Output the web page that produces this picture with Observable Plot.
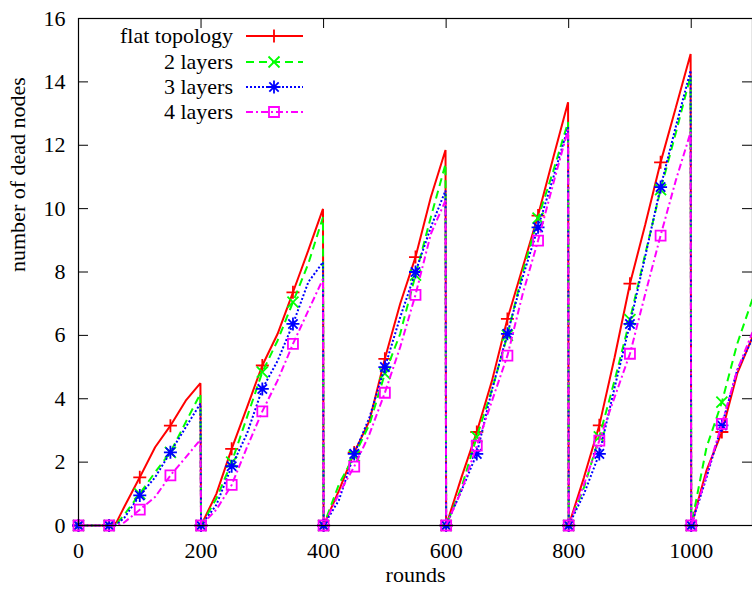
<!DOCTYPE html>
<html><head><meta charset="utf-8">
<script src="https://cdn.jsdelivr.net/npm/d3@7"></script>
<script src="https://cdn.jsdelivr.net/npm/@observablehq/plot@0.6"></script>
<style>body{margin:0;background:#fff}svg{display:block}</style>
</head><body><div id="chart"></div>
<script>
// ---- data ----
const rounds = [0,25,50,62,75,100,125,150,175,199,
  200,225,250,275,300,325,350,375,399,
  400,425,450,475,500,525,550,575,599,
  600,625,650,675,700,725,750,775,799,
  800,825,850,875,900,925,950,975,999,
  1000,1025,1050,1075,1100];
const flatTopology = [0,0,0,0.1,0.6,1.52,2.47,3.15,3.94,4.49,
  0,1.0,2.42,3.73,5.05,6.05,7.36,8.68,9.99,
  0,1.1,2.3,3.31,5.26,7.0,8.47,10.36,11.85,
  0,1.52,2.95,4.58,6.52,8.15,9.78,11.62,13.36,
  0,1.52,3.16,5.31,7.63,9.5,11.46,13.2,14.88,
  0,1.74,2.95,4.79,5.95];
const twoLayers = [0,0,0,0.05,0.35,1.0,1.68,2.31,3.26,4.16,
  0,0.85,2.0,3.42,4.84,5.84,7.05,8.26,9.73,
  0,1.3,2.2,3.2,4.79,6.05,7.9,9.73,11.41,
  0,1.2,2.8,4.3,6.0,8.0,9.7,11.2,12.73,
  0,1.2,2.8,4.58,6.5,8.57,10.6,12.4,14.2,
  0,2.47,3.89,5.73,7.15];
const threeLayers = [0,0,0,0.03,0.25,0.95,1.52,2.31,3.1,3.85,
  0,0.65,1.87,2.9,4.31,5.2,6.36,7.68,8.31,
  0,0.8,2.26,3.42,5.0,6.57,8.0,9.41,10.57,
  0,1.1,2.26,4.3,6.05,7.84,9.41,10.99,12.57,
  0,1.0,2.26,4.36,6.36,8.5,10.68,12.6,14.36,
  0,1.52,3.16,4.9,5.9];
const fourLayers = [0,0,0,0,0.1,0.5,0.9,1.58,2.15,2.71,
  0,0.5,1.28,2.47,3.6,4.58,5.73,6.78,7.78,
  0,1.0,1.86,2.89,4.19,5.63,7.28,9.2,10.26,
  0,1.1,2.52,3.94,5.36,7.31,8.99,10.8,12.5,
  0,1.3,2.68,4.05,5.42,7.31,9.15,10.9,12.41,
  0,1.6,3.21,4.9,6.1];
const seriesNames = ["flat topology","2 layers","3 layers","4 layers"];
const xTicks = [0,200,400,600,800,1000];
const yTicks = [0,2,4,6,8,10,12,14,16];

// ---- styles ----
const W = 752, H = 589, ML = 78, MR = 0, MT = 18, MB = 64;
const plotW = W - ML - MR, plotH = H - MT - MB;
const font = "'Liberation Serif', 'Times New Roman', serif";
const colors = ["#ff0000","#00ff00","#0000ff","#ff00ff"];
const dashes = [null,"8,5","2,2","7,3,2,3"];

const symPlus = {draw(c, s){const h=Math.sqrt(s/Math.PI); c.moveTo(-h,0);c.lineTo(h,0);c.moveTo(0,-h);c.lineTo(0,h);}};
const symTimes = {draw(c, s){const h=Math.sqrt(s/Math.PI); c.moveTo(-h,-h);c.lineTo(h,h);c.moveTo(-h,h);c.lineTo(h,-h);}};
const symStar = {draw(c, s){const h=Math.sqrt(s/Math.PI), d=h*0.72; c.moveTo(-h,0);c.lineTo(h,0);c.moveTo(0,-h);c.lineTo(0,h);
  c.moveTo(-d,-d);c.lineTo(d,d);c.moveTo(-d,d);c.lineTo(d,-d);}};
const symSquare = {draw(c, s){const h=Math.sqrt(s/Math.PI); c.rect(-h,-h,2*h,2*h);}};
const symbols = [symPlus, symTimes, symStar, symSquare];
const symR = [6.5, 5.5, 6.5, 5];

const allValues = [flatTopology, twoLayers, threeLayers, fourLayers];
const series = allValues.map(vals => rounds.map((r, i) => ({x: r, y: vals[i]})));

const marks = [];
series.forEach((rows, k) => {
  marks.push(Plot.line(rows, {x: "x", y: "y", stroke: colors[k], strokeWidth: 2,
    strokeDasharray: dashes[k], strokeLinejoin: "miter", strokeLinecap: "butt"}));
  marks.push(Plot.dot(rows.filter(d => d.x % 50 === 0 && d.x < 1100), {x: "x", y: "y",
    symbol: symbols[k], r: symR[k], fill: "none", stroke: colors[k], strokeWidth: 1.8}));
});

const chart = Plot.plot({
  width: W, height: H,
  marginLeft: ML, marginRight: MR, marginTop: MT, marginBottom: MB,
  style: {fontFamily: font, fontSize: "22px", background: "#fff", color: "#000"},
  x: {domain: [0, 1100], label: null},
  y: {domain: [0, 16], label: null},
  marks: [
    Plot.tickY(yTicks, {y: d => d, insetRight: plotW - 10, stroke: "#000"}),
    Plot.tickY(yTicks, {y: d => d, insetLeft: plotW - 10, stroke: "#000"}),
    Plot.tickX(xTicks, {x: d => d, insetTop: plotH - 10, stroke: "#000"}),
    Plot.tickX(xTicks, {x: d => d, insetBottom: plotH - 10, stroke: "#000"}),
    Plot.axisY({ticks: yTicks, tickSize: 0, tickPadding: 13, label: null, fontSize: 22, tickFormat: d3.format("d")}),
    Plot.axisX({ticks: xTicks, tickSize: 0, tickPadding: 17, label: null, fontSize: 22, tickFormat: d3.format("d")}),
    Plot.text(["rounds"], {frameAnchor: "bottom", dy: 56, fontSize: 22}),
    Plot.text(["number of dead nodes"], {frameAnchor: "left", rotate: -90, dx: -61, fontSize: 22}),
    ...marks,
    Plot.frame({stroke: "#000", strokeWidth: 1.2})
  ]
});
document.getElementById("chart").appendChild(chart);

// ---- legend (inside plot, top-left) ----
const svg = d3.select(chart);
const lg = svg.append("g").attr("font-family", font).attr("font-size", 22);
const rowY = [36, 62, 87, 112];
seriesNames.forEach((name, k) => {
  const y = rowY[k];
  lg.append("text").attr("x", 233).attr("y", y).attr("dy", "0.32em")
    .attr("text-anchor", "end").attr("fill", "#000").text(name);
  lg.append("line").attr("x1", 246).attr("x2", 303).attr("y1", y).attr("y2", y)
    .attr("stroke", colors[k]).attr("stroke-width", 2)
    .attr("stroke-dasharray", dashes[k]);
  lg.append("path").attr("transform", `translate(274,${y})`)
    .attr("d", d3.symbol(symbols[k], symR[k] * symR[k] * Math.PI)())
    .attr("fill", "none").attr("stroke", colors[k]).attr("stroke-width", 1.8);
});
</script>
</body></html>
